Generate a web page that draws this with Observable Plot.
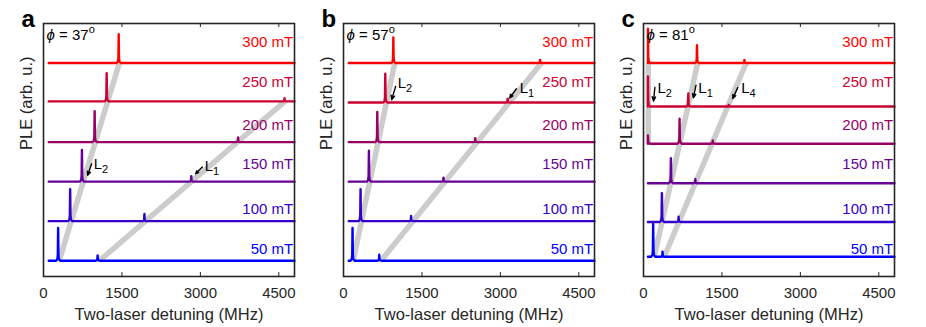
<!DOCTYPE html>
<html><head><meta charset="utf-8">
<script src="https://cdn.jsdelivr.net/npm/d3@7"></script>
<script src="https://cdn.jsdelivr.net/npm/@observablehq/plot@0.6"></script>
<style>
body{margin:0;background:#fff;}
#wrap{position:relative;width:926px;height:327px;overflow:hidden;}
.panel{position:absolute;top:0;}
</style></head><body><div id="wrap"></div>
<script>
// ---------- shared ----------
const fields = [50, 100, 150, 200, 250, 300];
const fieldLabels = ["50 mT", "100 mT", "150 mT", "200 mT", "250 mT", "300 mT"];
const traceColors = ["#0000ff", "#3300cc", "#660099", "#990066", "#cc0033", "#ff0000"];
const labelY = [0.3, 1.31, 2.43, 3.44, 4.51, 5.52];
const xTicks = [0, 1500, 3000, 4500];
const xDomain = [0, 4800];
const yDomain = [-0.4, 6];
const panelLetters = ["a", "b", "c"];
const phiLabels = ["ϕ = 37o", "ϕ = 57o", "ϕ = 81o"];
const traceStart = [100, 100, 85];
const traceEnd = 4800;
// peak profile (offset in MHz, fraction of peak amplitude)
const peakDx = [-40, -15, -6, 0, 6, 15, 40];
const peakFrac = [0, 0.05, 0.18, 1, 0.18, 0.05, 0];

// ---------- panel a (phi = 37) ----------
const offsetsA = [0, 1, 2, 3, 4.03, 5];
const aL2Pos = [280, 510, 735, 978, 1208, 1438];
const aL2Amp = [0.83, 0.81, 0.80, 0.78, 0.71, 0.73];
const aL1Pos = [1035, 1930, 2826, 3721, 4610, null];
const aL1Amp = [0.13, 0.18, 0.14, 0.12, 0.08, 0];
const bandsA = [[300, 0, 1451, 5], [1068, 0, 4617, 4.03]];
const arrowsA = [[921, 2.45, 844, 2.16], [3037, 2.37, 2909, 2.2]];
const arrowTextA = [["L2", 959, 2.43], ["L1", 3082, 2.39]];

// ---------- panel b (phi = 57) ----------
const offsetsB = [0, 1, 2, 3, 4, 5];
const bL2Pos = [173, 326, 486, 646, 799, 953];
const bL2Amp = [0.83, 0.81, 0.78, 0.76, 0.73, 0.65];
const bL1Pos = [684, 1292, 1912, 2519, 3139, 3760];
const bL1Amp = [0.15, 0.13, 0.10, 0.10, 0.10, 0.08];
const bandsB = [[185, 0, 980, 5], [716, 0, 3785, 5]];
const arrowsB = [[997, 4.41, 921, 4.07], [3306, 4.35, 3178, 4.12]];
const arrowTextB = [["L2", 1036, 4.5], ["L1", 3370, 4.37]];

// ---------- panel c (phi = 81) ----------
const offsetsC = [0.1, 0.98, 1.96, 2.96, 3.9, 5.0];
const cL2Pos = [null, null, null, 85, 85, 85];
const cL2Amp = [0, 0, 0, 0.21, 0.76, 0.87];
const cL1Pos = [185, 352, 524, 690, 857, 1023];
const cL1Amp = [0.83, 0.73, 0.63, 0.63, 0.33, 0.45];
const cL4Pos = [364, 671, 991, 1324, 1630, 1931];
const cL4Amp = [0.13, 0.13, 0.10, 0.08, 0.04, 0.08];
const bandsC = [[92, 2.96, 92, 5.0], [205, 0.1, 1036, 5.0], [396, 0.1, 1963, 5.0]];
const arrowsC = [[217, 4.38, 192, 4.04], [1004, 4.44, 953, 4.12], [1803, 4.38, 1707, 4.1]];
const arrowTextC = [["L2", 268, 4.37], ["L1", 1049, 4.37], ["L4", 1867, 4.37]];

const panels = [
  {offsets: offsetsA, peaks: [[aL2Pos, aL2Amp], [aL1Pos, aL1Amp]], bands: bandsA, arrows: arrowsA, arrowText: arrowTextA},
  {offsets: offsetsB, peaks: [[bL2Pos, bL2Amp], [bL1Pos, bL1Amp]], bands: bandsB, arrows: arrowsB, arrowText: arrowTextB},
  {offsets: offsetsC, peaks: [[cL2Pos, cL2Amp], [cL1Pos, cL1Amp], [cL4Pos, cL4Amp]], bands: bandsC, arrows: arrowsC, arrowText: arrowTextC}
];

function buildTrace(start, offset, peaks) {
  const pts = [{x: start, y: offset}];
  peaks.filter(p => p[0] != null && p[1] > 0).sort((a, b) => a[0] - b[0]).forEach(([p, a]) => {
    peakDx.forEach((dx, i) => {
      const x = p + dx;
      if (x >= start && x <= traceEnd) pts.push({x, y: offset + a * peakFrac[i]});
    });
  });
  pts.push({x: traceEnd, y: offset});
  return pts;
}

const FONT = "'Liberation Sans', Arial, Helvetica, sans-serif";
const wrap = document.getElementById("wrap");

panels.forEach((P, pi) => {
  const marks = [];
  // gray guide bands
  marks.push(Plot.link(P.bands, {x1: d => d[0], y1: d => d[1], x2: d => d[2], y2: d => d[3], stroke: "#cccccc", strokeWidth: 5.5, strokeLinecap: "butt"}));
  // traces
  fields.forEach((f, i) => {
    const pk = P.peaks.map(([pos, amp]) => [pos[i], amp[i]]);
    const pts = buildTrace(traceStart[pi], P.offsets[i], pk);
    marks.push(Plot.line(pts, {x: "x", y: "y", stroke: traceColors[i], strokeWidth: 2.4, strokeLinejoin: "round", curve: "linear"}));
  });
  // field labels
  marks.push(Plot.text(fields, {x: () => 4775, y: (d, i) => labelY[i], text: (d, i) => fieldLabels[i], fill: (d, i) => traceColors[i], textAnchor: "end", fontSize: 15}));
  // arrows
  marks.push(Plot.arrow(P.arrows, {x1: d => d[0], y1: d => d[1], x2: d => d[2], y2: d => d[3], stroke: "black", strokeWidth: 1.4, headLength: 6, headAngle: 45}));
  marks.push(Plot.text(P.arrowText, {x: d => d[1], y: d => d[2], text: d => d[0], textAnchor: "start", fontSize: 15, fill: "black"}));
  // ticks (inward, bottom & top)
  marks.push(Plot.ruleX(xTicks, {y1: yDomain[0], y2: yDomain[0] + 0.1, stroke: "#262626", strokeWidth: 1}));
  marks.push(Plot.ruleX(xTicks, {y1: yDomain[1], y2: yDomain[1] - 0.1, stroke: "#262626", strokeWidth: 1}));
  marks.push(Plot.axisX({ticks: xTicks, tickSize: 0, tickPadding: 11, label: null, fontSize: 15, tickFormat: d => String(d)}));
  marks.push(Plot.frame({stroke: "#262626", strokeWidth: 1.6}));
  // phi label
  marks.push(Plot.text([phiLabels[pi]], {frameAnchor: "top-left", text: d => d, dx: 3, dy: 16.7, lineAnchor: "bottom", textAnchor: "start", fontSize: 15, fill: "black"}));
  // panel letter
  marks.push(Plot.text([panelLetters[pi]], {frameAnchor: "top-left", text: d => d, dx: -22, dy: 3.7, lineAnchor: "bottom", textAnchor: "start", fontSize: 24, fontWeight: "bold", fill: "black"}));
  // axis titles
  marks.push(Plot.text(["PLE (arb. u.)"], {frameAnchor: "left", text: d => d, rotate: -90, dx: -16.3, fontSize: 16.5, fill: "#262626"}));
  marks.push(Plot.text(["Two-laser detuning (MHz)"], {frameAnchor: "bottom", text: d => d, dy: 43, lineAnchor: "bottom", fontSize: 16.5, fill: "#262626"}));

  const svg = Plot.plot({
    width: 300, height: 327,
    marginLeft: 43, marginRight: 6, marginTop: 23, marginBottom: 51,
    x: {domain: xDomain, axis: null},
    y: {domain: yDomain, axis: null},
    style: {fontFamily: FONT, fontSize: "15px", color: "#262626", background: "white", overflow: "visible"},
    marks
  });
  // rich text: subscripts, italic phi, superscript degree
  svg.querySelectorAll("text").forEach(t => {
    const s = t.textContent;
    let m = s.match(/^L(\d)$/);
    if (m) {
      t.textContent = "L";
      const ts = document.createElementNS("http://www.w3.org/2000/svg", "tspan");
      ts.setAttribute("dy", "4"); ts.setAttribute("font-size", "11"); ts.textContent = m[1];
      t.appendChild(ts);
      return;
    }
    m = s.match(/^ϕ = (\d+)o$/);
    if (m) {
      t.textContent = "";
      const a = document.createElementNS("http://www.w3.org/2000/svg", "tspan");
      a.setAttribute("font-style", "italic"); a.textContent = "ϕ";
      const b = document.createElementNS("http://www.w3.org/2000/svg", "tspan");
      b.textContent = " = " + m[1];
      const c = document.createElementNS("http://www.w3.org/2000/svg", "tspan");
      c.setAttribute("dy", "-7"); c.setAttribute("font-size", "11"); c.textContent = "o";
      t.appendChild(a); t.appendChild(b); t.appendChild(c);
    }
  });
  const div = document.createElement("div");
  div.className = "panel";
  div.style.left = (pi * 300) + "px";
  div.appendChild(svg);
  wrap.appendChild(div);
});
</script></body></html>
